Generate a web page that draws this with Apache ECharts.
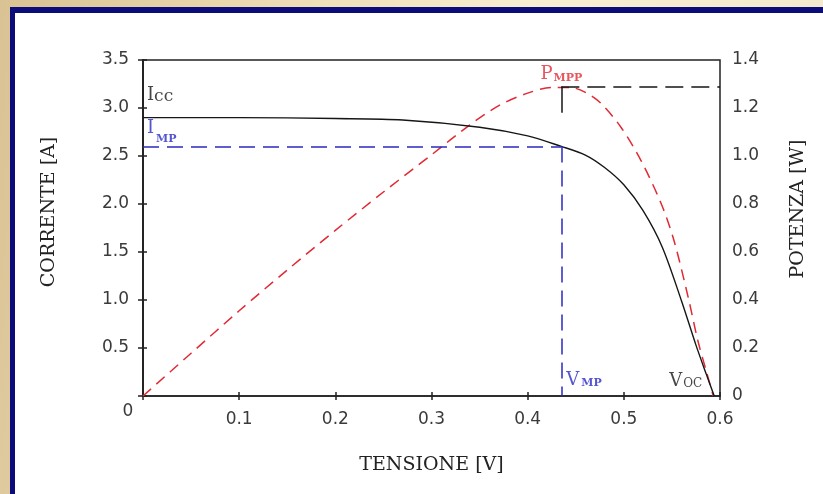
<!DOCTYPE html>
<html>
<head>
<meta charset="utf-8">
<script src="https://cdn.jsdelivr.net/npm/echarts@6/dist/echarts.min.js"></script>
<style>
  html, body { margin: 0; padding: 0; }
  body {
    width: 823px; height: 494px; position: relative; overflow: hidden;
    background: linear-gradient(100deg, #d9c293 0%, #efdfb9 35%, #f8efd3 60%, #f3e8cc 100%);
  }
  #frame {
    position: absolute; left: 10px; top: 7px; right: 0; bottom: 0;
    border-left: 5px solid #0b0b7a; border-top: 6px solid #0b0b7a;
    background: #ffffff;
  }
  #chart { position: absolute; left: 0; top: 0; width: 823px; height: 494px; }
</style>
</head>
<body>
<div id="frame"></div>
<div id="chart"></div>
<script>
// I-V characteristic of the cell (voltage in V, current in A)
const voltsI = [0, 0.1, 0.2, 0.27, 0.35, 0.4, 0.435, 0.46, 0.48, 0.5, 0.52, 0.54, 0.56, 0.575, 0.586, 0.594];
const amps   = [2.9, 2.9, 2.89, 2.875, 2.8, 2.71, 2.6, 2.51, 2.38, 2.2, 1.93, 1.55, 0.99, 0.53, 0.22, 0];

// P-V characteristic (voltage in V, power in W)
const voltsP = [0, 0.05, 0.1, 0.15, 0.2, 0.25, 0.3, 0.34, 0.37, 0.4, 0.425, 0.445, 0.46, 0.476, 0.497, 0.518, 0.539, 0.552, 0.567, 0.577, 0.586, 0.593];
const watts  = [0, 0.178, 0.355, 0.525, 0.69, 0.85, 1.005, 1.13, 1.21, 1.262, 1.285, 1.285, 1.265, 1.22, 1.12, 0.98, 0.80, 0.65, 0.41, 0.23, 0.10, 0];

// Characteristic points
const Icc = 2.9;     // short-circuit current
const Imp = 2.6;     // current at maximum power
const Vmp = 0.435;   // voltage at maximum power
const Voc = 0.594;   // open-circuit voltage
const Pmpp = 1.29;   // maximum power

// Axis ranges [min, max, step]
const vRange = [0, 0.6, 0.1];
const iRange = [0, 3.5, 0.5];
const pRange = [0, 1.4, 0.2];

const BLUE = '#2a2ac4', RED = '#e12a34', INK = '#161616';
const SANS = '"DejaVu Sans", sans-serif';
const SERIF = '"DejaVu Serif", serif';

const zip = (a, b) => a.map((v, i) => [v, b[i]]);

const chart = echarts.init(document.getElementById('chart'), null, { renderer: 'canvas' });

const baseX = { type: 'value', min: vRange[0], max: vRange[1], interval: vRange[2], gridIndex: 0, position: 'bottom', splitLine: { show: false } };
const baseI = { type: 'value', min: iRange[0], max: iRange[1], interval: iRange[2], gridIndex: 0, position: 'left', splitLine: { show: false } };
const baseP = { type: 'value', min: pRange[0], max: pRange[1], interval: pRange[2], gridIndex: 0, position: 'right', splitLine: { show: false } };
const tickLabel = { color: '#3a3a3a', fontFamily: SANS, fontSize: 17 };

chart.setOption({
  animation: false,
  backgroundColor: 'transparent',
  grid: { left: 143, top: 60, right: 103, bottom: 98, show: true, borderColor: '#222', borderWidth: 1.5, backgroundColor: 'transparent' },
  xAxis: [
    Object.assign({}, baseX, {
      name: 'TENSIONE [V]', nameLocation: 'middle', nameGap: 60,
      nameTextStyle: { fontFamily: SERIF, fontSize: 19, color: '#222' },
      axisLine: { lineStyle: { color: '#222', width: 1.5 } },
      axisTick: { inside: false, length: 4, lineStyle: { color: '#222', width: 1.5 } },
      axisLabel: Object.assign({}, tickLabel, {
        margin: 7,
        formatter: v => v === 0 ? '{o|0}' : '{n|' + v.toFixed(1) + '}',
        rich: {
          o: Object.assign({}, tickLabel, { padding: [0, 30, 0, 0] }),
          n: Object.assign({}, tickLabel, { padding: [8, 0, 0, 0] })
        }
      })
    }),
    Object.assign({}, baseX, {
      axisLine: { show: false },
      axisTick: { inside: true, length: 4, lineStyle: { color: '#222', width: 1.5 } },
      axisLabel: { show: false }
    })
  ],
  yAxis: [
    Object.assign({}, baseI, {
      name: 'CORRENTE [A]', nameLocation: 'middle', nameGap: 84, nameRotate: 90,
      nameTextStyle: { fontFamily: SERIF, fontSize: 19, color: '#222', padding: [0, 0, 0, 32] },
      axisLine: { show: true, lineStyle: { color: '#222', width: 1.5 } },
      axisTick: { inside: false, length: 5, lineStyle: { color: '#222', width: 1.5 } },
      axisLabel: Object.assign({}, tickLabel, { margin: 14, formatter: v => v === 0 ? '' : v.toFixed(1) })
    }),
    Object.assign({}, baseP, {
      name: 'POTENZA [W]', nameLocation: 'middle', nameGap: 69, nameRotate: 90,
      nameTextStyle: { fontFamily: SERIF, fontSize: 19, color: '#222', padding: [0, 0, 0, 38] },
      axisLine: { show: true, lineStyle: { color: '#222', width: 1.5 } },
      axisTick: { inside: true, length: 5, lineStyle: { color: '#222', width: 1.5 } },
      axisLabel: Object.assign({}, tickLabel, { margin: 12, formatter: v => v === 0 ? '0' : v.toFixed(1) })
    }),
    Object.assign({}, baseI, {
      axisLine: { show: false },
      axisTick: { show: true, inside: true, length: 4, lineStyle: { color: '#222', width: 1.5 } },
      axisLabel: { show: false }
    })
  ],
  series: [
    {
      name: 'Corrente', type: 'line', xAxisIndex: 0, yAxisIndex: 0,
      data: zip(voltsI, amps), showSymbol: false, smooth: 0.3, z: 4,
      lineStyle: { color: INK, width: 1.4 },
      markLine: {
        silent: true, symbol: 'none', label: { show: false }, animation: false,
        lineStyle: { color: BLUE, width: 1.5, type: [16, 8] },
        data: [
          [{ coord: [0, Imp] }, { coord: [Vmp, Imp] }],
          [{ coord: [Vmp, Imp] }, { coord: [Vmp, 0] }]
        ]
      }
    },
    {
      name: 'Potenza', type: 'line', xAxisIndex: 0, yAxisIndex: 1,
      data: zip(voltsP, watts), showSymbol: false, smooth: 0.3, z: 3,
      lineStyle: { color: RED, width: 1.5, type: [11, 7] },
      markLine: {
        silent: true, symbol: 'none', label: { show: false }, animation: false,
        data: [
          [{ coord: [Vmp, Pmpp], lineStyle: { color: INK, width: 1.5, type: [18, 8] } }, { coord: [vRange[1], Pmpp] }],
          [{ coord: [Vmp, Pmpp], lineStyle: { color: INK, width: 1.5, type: 'solid' } }, { coord: [Vmp, Pmpp - 0.11] }]
        ]
      }
    },
    {
      name: 'etichette I', type: 'scatter', xAxisIndex: 0, yAxisIndex: 0, symbolSize: 0, silent: true, z: 6,
      data: [
        { value: [0, Icc], label: { position: [4, -13], align: 'left', verticalAlign: 'bottom', formatter: '{b|I}{s|cc}', color: INK } },
        { value: [0, Imp], label: { position: [4, -2], align: 'left', verticalAlign: 'bottom', formatter: '{i|I}{m|MP}', color: BLUE } },
        { value: [Vmp, 0], label: { position: [5, -7], align: 'left', verticalAlign: 'bottom', formatter: '{v|V}{m|MP}', color: BLUE } },
        { value: [Voc, 0], label: { position: [-12, -6], align: 'right', verticalAlign: 'bottom', formatter: '{v|V}{c|OC}', color: INK } }
      ],
      label: {
        show: true,
        rich: {
          b: { fontFamily: SERIF, fontSize: 18, verticalAlign: 'bottom' },
          s: { fontFamily: SERIF, fontSize: 17, verticalAlign: 'bottom' },
          i: { fontFamily: SERIF, fontSize: 18, verticalAlign: 'bottom', padding: [0, 0, 7, 0] },
          v: { fontFamily: SERIF, fontSize: 18, verticalAlign: 'bottom' },
          m: { fontFamily: SERIF, fontSize: 11, fontWeight: 'bold', verticalAlign: 'bottom', padding: [0, 0, 0, 2] },
          c: { fontFamily: SERIF, fontSize: 12, verticalAlign: 'bottom', padding: [0, 0, 0, 1] }
        }
      }
    },
    {
      name: 'etichette P', type: 'scatter', xAxisIndex: 0, yAxisIndex: 1, symbolSize: 0, silent: true, z: 6,
      data: [
        { value: [Vmp, Pmpp], label: { position: [0, -3], align: 'center', verticalAlign: 'bottom', formatter: '{p|P}{m|MPP}', color: RED } }
      ],
      label: {
        show: true,
        rich: {
          p: { fontFamily: SERIF, fontSize: 18, verticalAlign: 'bottom' },
          m: { fontFamily: SERIF, fontSize: 11, fontWeight: 'bold', verticalAlign: 'bottom', padding: [0, 0, 0, 1] }
        }
      }
    }
  ]
});
</script>
</body>
</html>
